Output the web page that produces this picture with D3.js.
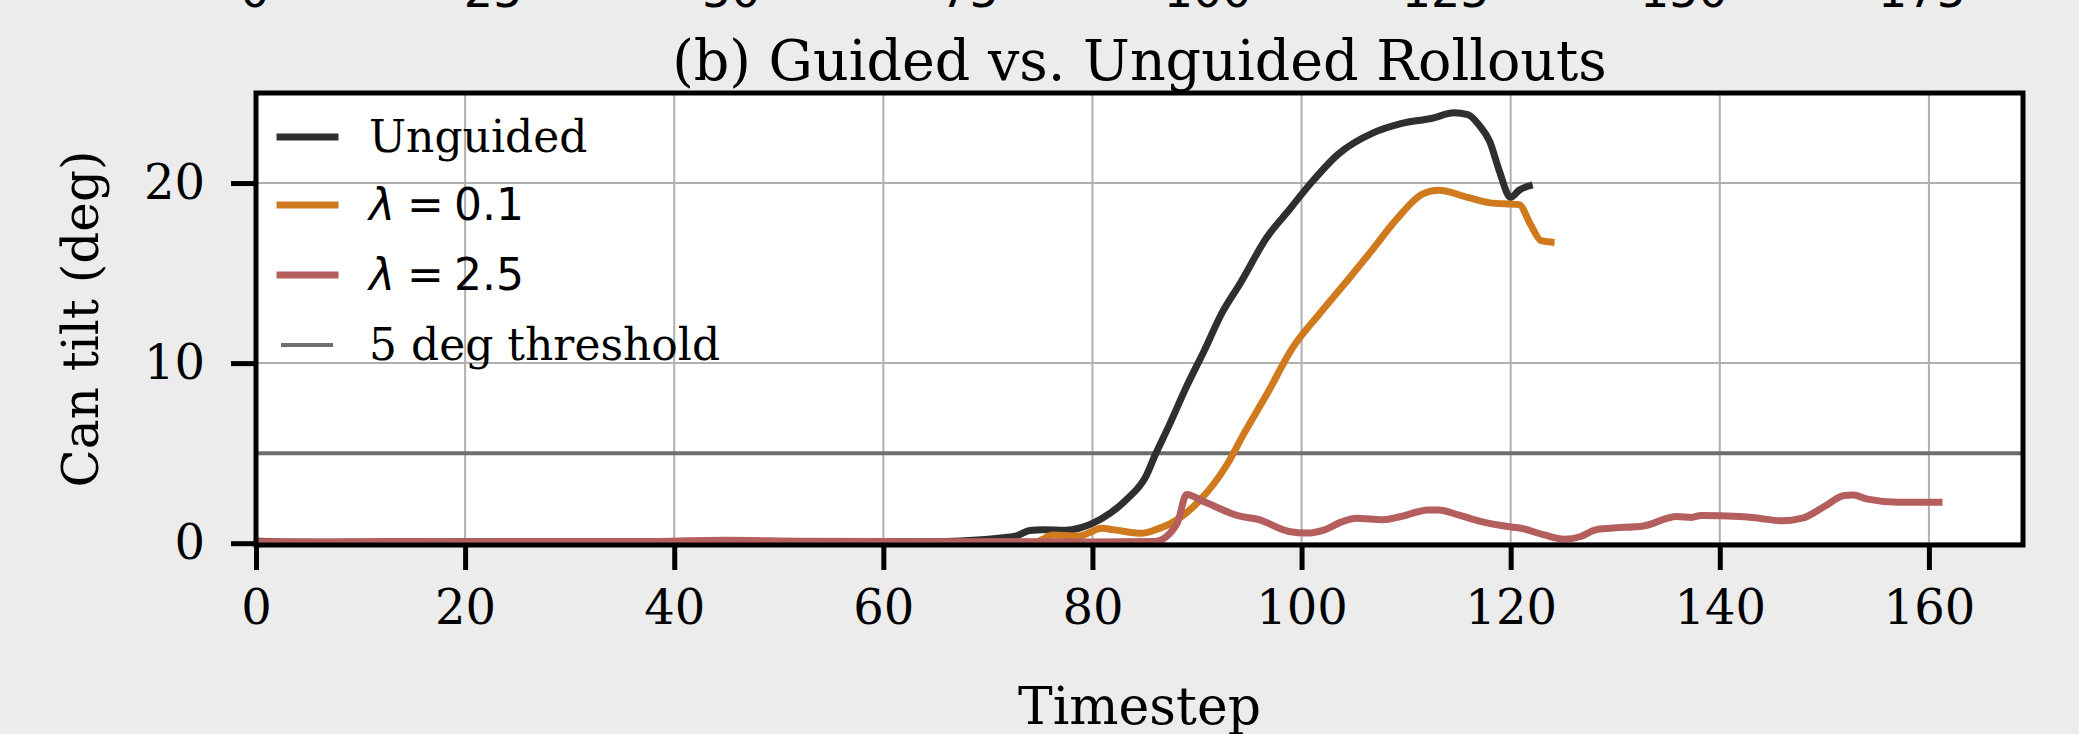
<!DOCTYPE html>
<html>
<head>
<meta charset="utf-8">
<script src="https://cdn.jsdelivr.net/npm/d3@7"></script>
<style>
  body { margin: 0; background: #ececec; }
  svg { display: block; }
</style>
</head>
<body>
<div id="chart"></div>
<script>
// series: [timestep, tilt in deg]
const unguided = [
  [0, 0.12], [3, 0.06], [10, 0.05], [20, 0.08], [30, 0.06], [40, 0.09], [50, 0.07],
  [60, 0.08], [66, 0.1], [69, 0.18], [71, 0.28], [72.7, 0.4], [74, 0.7], [75.3, 0.74],
  [77.4, 0.72], [78.7, 0.83], [80, 1.1], [81.7, 1.67], [83.4, 2.5], [85.1, 3.7],
  [86, 4.9], [87.3, 6.5], [89, 8.7], [90.7, 10.7], [92.4, 12.8], [94.1, 14.4],
  [96.7, 17.0], [98.8, 18.5], [100.9, 20.0], [103.5, 21.6], [106.9, 22.8],
  [109.5, 23.3], [112.5, 23.6], [114.6, 23.9], [115.9, 23.8], [117, 23.2],
  [118, 22.3], [118.9, 20.7], [120, 19.2], [120.8, 19.6], [122.1, 19.9]
];
const lam01 = [
  [0, 0.03], [10, 0.04], [20, 0.03], [30, 0.05], [40, 0.04], [50, 0.05], [60, 0.04],
  [70, 0.05], [74.5, 0.05], [75.2, 0.2], [76.2, 0.46], [78.7, 0.4], [80.9, 0.83],
  [82.1, 0.74], [84.7, 0.55], [86, 0.74], [88.1, 1.3], [90.3, 2.4], [92.8, 4.3],
  [94.5, 6.1], [96.7, 8.3], [99.2, 10.9], [101.8, 12.8], [104.4, 14.6], [106.5, 16.1],
  [109.1, 18.0], [111.6, 19.4], [113.1, 19.6], [115.9, 19.2], [118, 18.9],
  [120.8, 18.8], [121.9, 17.7], [122.9, 16.8], [124.2, 16.7]
];
const lam25 = [
  [0, 0.08], [5, 0.06], [12, 0.1], [20, 0.08], [28, 0.1], [36, 0.09], [45, 0.16],
  [52, 0.11], [60, 0.09], [70, 0.08], [80, 0.07], [86, 0.1], [88.1, 1.1], [89, 2.7],
  [90.7, 2.3], [94.1, 1.5], [95.8, 1.33], [98.8, 0.65], [100.5, 0.56], [102.2, 0.74],
  [103.9, 1.2], [105.2, 1.39], [107.8, 1.3], [109.5, 1.48], [112.1, 1.85],
  [113.1, 1.85], [115, 1.57], [117.2, 1.2], [119.7, 0.93], [121, 0.83], [123.2, 0.46],
  [125.1, 0.22], [126.7, 0.37], [128.1, 0.74], [129.5, 0.83], [132.7, 0.96],
  [135.9, 1.48], [137.3, 1.43], [138.2, 1.54], [141.9, 1.48], [143.7, 1.39],
  [145.9, 1.24], [147.9, 1.39], [150, 2.04], [151.9, 2.65], [152.8, 2.68],
  [154, 2.46], [157, 2.28], [161.3, 2.28]
];
const threshold = 5;

const xTicks = [0, 20, 40, 60, 80, 100, 120, 140, 160];
const yTicks = [0, 10, 20];
const topTicks = [0, 25, 50, 75, 100, 125, 150, 175]; // panel (a) above, cut off

const series = [
  { name: 'Unguided', data: unguided, color: '#2f2f2f' },
  { name: 'λ', val: '0.1', data: lam01, color: '#d07a1e' },
  { name: 'λ', val: '2.5', data: lam25, color: '#b45f5d' }
];

const W = 2079, H = 734;
const m = { left: 256, right: 2023, top: 93, bottom: 545 };
const serif = "'DejaVu Serif', serif";
const sans = "'DejaVu Sans', sans-serif";

const svg = d3.select('#chart').append('svg')
  .attr('width', W)
  .attr('height', H);

svg.append('rect').attr('width', W).attr('height', H).attr('fill', '#ececec');

const xScale = d3.scaleLinear().domain([0, 169]).range([m.left, m.right]);
const yScale = d3.scaleLinear().domain([-0.1, 25]).range([m.bottom, m.top]);
const xTop = d3.scaleLinear().domain([0, 185.6]).range([255, m.right]);

// tick labels of the upper panel, only their feet show
svg.append('g')
  .selectAll('text')
  .data(topTicks)
  .join('text')
  .attr('x', d => xTop(d))
  .attr('y', 7)
  .attr('text-anchor', 'middle')
  .style('font-family', sans)
  .style('font-size', '46px')
  .text(d => d);

// plot background
svg.append('rect')
  .attr('x', m.left).attr('y', m.top)
  .attr('width', m.right - m.left).attr('height', m.bottom - m.top)
  .attr('fill', '#fff');

// grid
let grid = svg.append('g');
grid.selectAll('.gx').data(xTicks).join('line')
  .attr('x1', d => xScale(d)).attr('x2', d => xScale(d))
  .attr('y1', m.top).attr('y2', m.bottom)
  .attr('stroke', '#b0b0b0').attr('stroke-width', 2);
grid.selectAll('.gy').data(yTicks).join('line')
  .attr('x1', m.left).attr('x2', m.right)
  .attr('y1', d => yScale(d)).attr('y2', d => yScale(d))
  .attr('stroke', '#b0b0b0').attr('stroke-width', 2);

// threshold
svg.append('line')
  .attr('x1', m.left).attr('x2', m.right)
  .attr('y1', yScale(threshold)).attr('y2', yScale(threshold))
  .attr('stroke', '#6e6e6e').attr('stroke-width', 4);

// data lines
let lineGen = d3.line()
  .curve(d3.curveMonotoneX)
  .x(d => xScale(d[0]))
  .y(d => yScale(d[1]));

svg.append('g')
  .selectAll('path')
  .data(series)
  .join('path')
  .attr('d', d => lineGen(d.data))
  .attr('fill', 'none')
  .attr('stroke', d => d.color)
  .attr('stroke-width', 7)
  .attr('stroke-linejoin', 'round');

// axes
let xAxisGen = d3.axisBottom(xScale).tickValues(xTicks).tickSize(25).tickPadding(20);
let xAxis = svg.append('g')
  .attr('transform', `translate(0,${m.bottom})`)
  .call(xAxisGen);

let yAxisGen = d3.axisLeft(yScale).tickValues(yTicks).tickSize(25).tickPadding(26);
let yAxis = svg.append('g')
  .attr('transform', `translate(${m.left},0)`)
  .call(yAxisGen);

[xAxis, yAxis].forEach(ax => {
  ax.select('.domain').remove();
  ax.selectAll('.tick line').attr('stroke', '#000').attr('stroke-width', 5);
  ax.selectAll('.tick text')
    .attr('fill', '#000')
    .style('font-family', serif)
    .style('font-size', '48px');
});
xAxis.selectAll('.tick text').attr('dy', '0.71em');

// spines
svg.append('rect')
  .attr('x', m.left).attr('y', m.top)
  .attr('width', m.right - m.left).attr('height', m.bottom - m.top)
  .attr('fill', 'none')
  .attr('stroke', '#000')
  .attr('stroke-width', 5);

// title and axis labels
svg.append('text')
  .attr('x', (m.left + m.right) / 2).attr('y', 80)
  .attr('text-anchor', 'middle')
  .style('font-family', serif).style('font-size', '55.5px')
  .text('(b) Guided vs. Unguided Rollouts');

svg.append('text')
  .attr('x', (m.left + m.right) / 2).attr('y', 724)
  .attr('text-anchor', 'middle')
  .style('font-family', serif).style('font-size', '52px')
  .text('Timestep');

svg.append('text')
  .attr('transform', `translate(98,${(m.top + m.bottom) / 2}) rotate(-90)`)
  .attr('text-anchor', 'middle')
  .style('font-family', serif).style('font-size', '50px')
  .text('Can tilt (deg)');

// legend
const legendRows = [137, 205, 275, 345];
let legend = svg.append('g');
series.forEach((s, i) => {
  legend.append('line')
    .attr('x1', 280).attr('x2', 335)
    .attr('y1', legendRows[i]).attr('y2', legendRows[i])
    .attr('stroke', s.color).attr('stroke-width', 7)
    .attr('stroke-linecap', 'square');
  let t = legend.append('text')
    .attr('x', 369).attr('y', legendRows[i] + 15)
    .style('font-size', '44px');
  if (s.val) {
    t.style('font-family', sans);
    t.append('tspan').style('font-style', 'italic').text(s.name);
    t.append('tspan').attr('dx', 12).text('=');
    t.append('tspan').attr('dx', 10).text(s.val);
  } else {
    t.style('font-family', serif).text(s.name);
  }
});
legend.append('line')
  .attr('x1', 281).attr('x2', 333)
  .attr('y1', legendRows[3]).attr('y2', legendRows[3])
  .attr('stroke', '#6e6e6e').attr('stroke-width', 4);
legend.append('text')
  .attr('x', 369).attr('y', legendRows[3] + 15)
  .style('font-family', serif).style('font-size', '44px')
  .text('5 deg threshold');
</script>
</body>
</html>
